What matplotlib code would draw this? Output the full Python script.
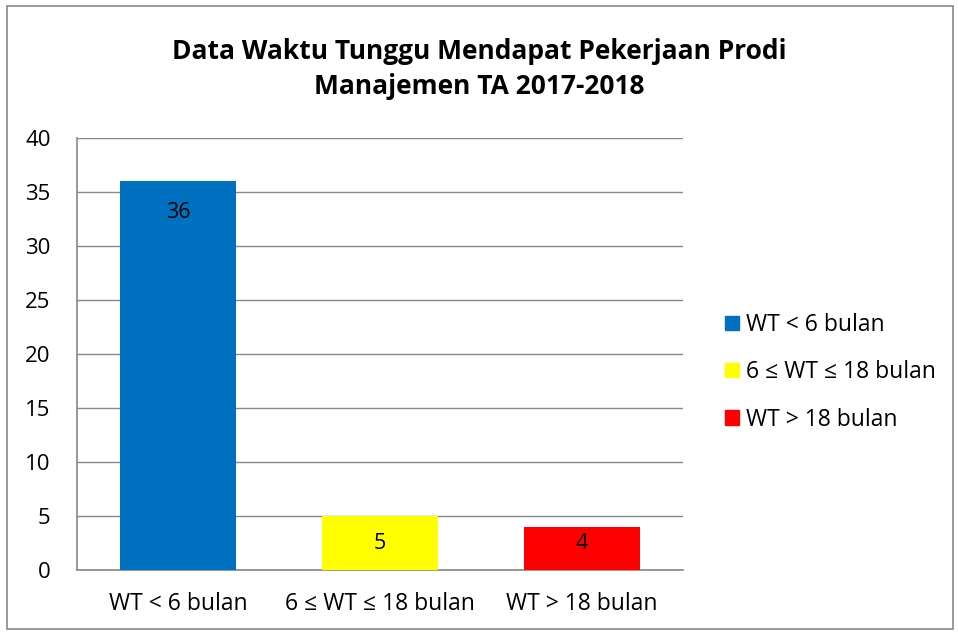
import matplotlib.pyplot as plt
from matplotlib.patches import Rectangle, Patch

plt.rcParams['font.family'] = ['Open Sans', 'DejaVu Sans']

categories = ['WT < 6 bulan', '6 ≤ WT ≤ 18 bulan', 'WT > 18 bulan']
values = [36, 5, 4]
colors = ['#0070C0', '#FFFF00', '#FF0000']

fig = plt.figure(figsize=(9.58, 6.32), dpi=100)
ax = fig.add_axes([0.0804, 0.0981, 0.6326, 0.6835])

x = range(len(categories))
ax.bar(x, values, width=0.574, color=colors, zorder=3)

for i, v in enumerate(values):
    ax.text(i, max(v - 2.9, 2.5), str(v), ha='center', va='center', fontsize=15.5, zorder=4)

ax.set_xlim(-0.5, 2.5)
ax.set_ylim(0, 40)
ax.set_yticks(range(0, 41, 5))
ax.set_xticks(list(x))
ax.set_xticklabels(categories, fontsize=16.5)
ax.tick_params(axis='y', labelsize=16, length=0, pad=19)
ax.tick_params(axis='x', length=0, pad=16)
ax.grid(axis='y', color='#888888', linewidth=1, zorder=0)
for s in ['top', 'right']:
    ax.spines[s].set_visible(False)
for s in ['left', 'bottom']:
    ax.spines[s].set_color('#888888')
    ax.spines[s].set_linewidth(1.2)

fig.text(0.5, 0.891, 'Data Waktu Tunggu Mendapat Pekerjaan Prodi\nManajemen TA 2017-2018',
         ha='center', va='center', fontsize=19, fontweight='bold', linespacing=1.4)

handles = [Patch(color=c, label=l) for c, l in zip(colors, categories)]
fig.legend(handles=handles, loc='center left', bbox_to_anchor=(0.757, 0.411), frameon=False,
           fontsize=16.5, handlelength=0.6, handleheight=0.6, handletextpad=0.3,
           labelspacing=1.02, borderaxespad=0, borderpad=0)

fig.patches.append(Rectangle((0.007, 0.004), 0.988, 0.986, transform=fig.transFigure,
                             fill=False, edgecolor='#888888', linewidth=1.2))

plt.savefig('out.png', dpi=100)
